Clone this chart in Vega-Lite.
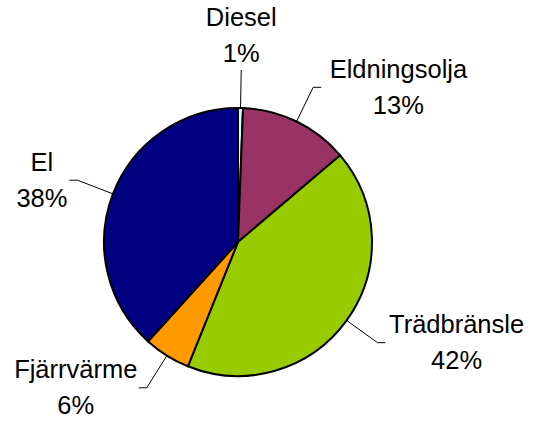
{
  "$schema": "https://vega.github.io/schema/vega-lite/v6.json",
  "width": 476,
  "height": 396,
  "autosize": {"type": "none"},
  "padding": {"left": 0, "top": 44, "right": 61, "bottom": 0},
  "background": "white",
  "config": {"view": {"stroke": null}},
  "data": {
    "values": [
      {"i": 1, "cat": "Diesel", "value": 0.6},
      {"i": 2, "cat": "Eldningsolja", "value": 13.2},
      {"i": 3, "cat": "Trädbränsle", "value": 42.3},
      {"i": 4, "cat": "Fjärrvärme", "value": 5.6},
      {"i": 5, "cat": "El", "value": 38.3}
    ]
  },
  "transform": [
    {"window": [{"op": "sum", "field": "value", "as": "cum"}], "sort": [{"field": "i"}], "frame": [null, 0]},
    {"joinaggregate": [{"op": "sum", "field": "value", "as": "total"}]},
    {"calculate": "2*PI*(datum.cum - datum.value/2)/datum.total", "as": "mid"},
    {"calculate": "sin(datum.mid)", "as": "sx"},
    {"calculate": "cos(datum.mid)", "as": "cy"},
    {"calculate": "datum.sx > 0.15 ? 1 : (datum.sx < -0.15 ? -1 : 0)", "as": "side"},
    {"calculate": "134*datum.sx", "as": "x0"},
    {"calculate": "134*datum.cy", "as": "y0"},
    {"calculate": "172*datum.sx", "as": "x1"},
    {"calculate": "172*datum.cy", "as": "y1"},
    {"calculate": "datum.x1 + 8*datum.side", "as": "x2"},
    {"calculate": "round(datum.value) + '%'", "as": "pct"},
    {"calculate": "max(length(datum.cat)*12.2, (length(datum.pct)-1)*14.2 + 22.7)", "as": "w"},
    {"calculate": "datum.side == 1 ? datum.x2 + 4 + datum.w/2 : (datum.side == -1 ? datum.x2 - 2 - datum.w/2 : datum.x1)", "as": "xt"},
    {"calculate": "datum.side == 0 ? datum.y1 + 36 : datum.y1 + 1", "as": "yc"},
    {"calculate": "datum.yc + 16.5", "as": "yname"},
    {"calculate": "datum.yc - 19.5", "as": "ypct"}
  ],
  "layer": [
    {
      "mark": {"type": "arc", "outerRadius": 134, "stroke": "black", "strokeWidth": 2},
      "encoding": {
        "theta": {"field": "value", "type": "quantitative", "stack": true},
        "order": {"field": "i", "type": "quantitative"},
        "color": {
          "field": "cat",
          "type": "nominal",
          "scale": {
            "domain": ["Diesel", "Eldningsolja", "Trädbränsle", "Fjärrvärme", "El"],
            "range": ["#CCFFFF", "#993366", "#99CC00", "#FF9900", "#000080"]
          },
          "legend": null
        }
      }
    },
    {
      "mark": {"type": "rule", "color": "black", "strokeWidth": 1},
      "encoding": {
        "x": {"field": "x0", "type": "quantitative", "scale": {"domain": [-238, 238], "nice": false, "zero": false}, "axis": null},
        "y": {"field": "y0", "type": "quantitative", "scale": {"domain": [-198, 198], "nice": false, "zero": false}, "axis": null},
        "x2": {"field": "x1"},
        "y2": {"field": "y1"}
      }
    },
    {
      "transform": [{"filter": "datum.side != 0"}],
      "mark": {"type": "rule", "color": "black", "strokeWidth": 1},
      "encoding": {
        "x": {"field": "x1", "type": "quantitative"},
        "x2": {"field": "x2"},
        "y": {"field": "y1", "type": "quantitative"}
      }
    },
    {
      "mark": {"type": "text", "align": "center", "baseline": "middle", "font": "Liberation Sans", "fontSize": 25.5, "color": "black"},
      "encoding": {
        "x": {"field": "xt", "type": "quantitative"},
        "y": {"field": "yname", "type": "quantitative"},
        "text": {"field": "cat"}
      }
    },
    {
      "mark": {"type": "text", "align": "center", "baseline": "middle", "font": "Liberation Sans", "fontSize": 25.5, "color": "black"},
      "encoding": {
        "x": {"field": "xt", "type": "quantitative"},
        "y": {"field": "ypct", "type": "quantitative"},
        "text": {"field": "pct"}
      }
    }
  ]
}
